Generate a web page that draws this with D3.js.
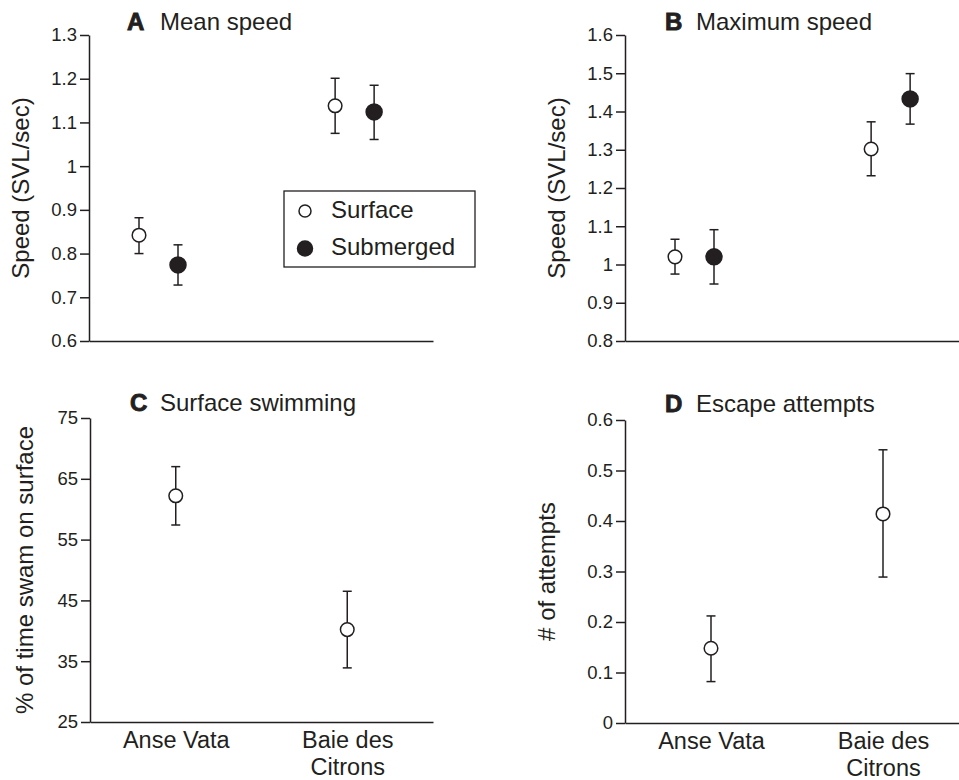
<!DOCTYPE html>
<html>
<head>
<meta charset="utf-8">
<script src="https://cdn.jsdelivr.net/npm/d3@7"></script>
<style>
  body { margin: 0; background: #fff; }
  svg { display: block; font-family: "Liberation Sans", Arial, Helvetica, sans-serif; }
</style>
</head>
<body>
<svg id="chart" width="959" height="780"></svg>
<script>
// --- Data ---
const sites = ["Anse Vata", "Baie des Citrons"];
const seriesNames = ["Surface", "Submerged"];

// A: mean speed (SVL/sec)
const meanSurface   = [0.842, 1.138];
const meanSurfaceLo = [0.800, 1.075];
const meanSurfaceHi = [0.882, 1.201];
const meanSubmerged   = [0.774, 1.124];
const meanSubmergedLo = [0.728, 1.061];
const meanSubmergedHi = [0.820, 1.185];

// B: maximum speed (SVL/sec)
const maxSurface   = [1.020, 1.302];
const maxSurfaceLo = [0.975, 1.232];
const maxSurfaceHi = [1.066, 1.373];
const maxSubmerged   = [1.020, 1.433];
const maxSubmergedLo = [0.949, 1.367];
const maxSubmergedHi = [1.091, 1.499];

// C: % of time swam on surface
const surfTime   = [62.2, 40.2];
const surfTimeLo = [57.4, 33.9];
const surfTimeHi = [67.0, 46.5];

// D: escape attempts
const escapes   = [0.148, 0.414];
const escapesLo = [0.082, 0.289];
const escapesHi = [0.212, 0.541];

// tick labels
const meanTicks = [0.6, 0.7, 0.8, 0.9, 1, 1.1, 1.2, 1.3];
const maxTicks  = [0.8, 0.9, 1, 1.1, 1.2, 1.3, 1.4, 1.5, 1.6];
const surfTicks = [25, 35, 45, 55, 65, 75];
const escTicks  = [0, 0.1, 0.2, 0.3, 0.4, 0.5, 0.6];

// --- Panels ---
const panels = [
  { letter: "A", title: "Mean speed", yLabel: "Speed (SVL/sec)", ticks: meanTicks,
    x0: 89, x1: 433, top: 35, bottom: 341, labelOff: 60, titleY: 30, letterX: 127, titleX: 160,
    pad: 0.377, align: 0.47, catLabels: false, legend: true,
    series: [
      { name: "Surface", v: meanSurface, lo: meanSurfaceLo, hi: meanSurfaceHi },
      { name: "Submerged", v: meanSubmerged, lo: meanSubmergedLo, hi: meanSubmergedHi }
    ] },
  { letter: "B", title: "Maximum speed", yLabel: "Speed (SVL/sec)", ticks: maxTicks,
    x0: 625, x1: 969, top: 35, bottom: 341, labelOff: 60, titleY: 30, letterX: 665, titleX: 696,
    pad: 0.377, align: 0.47, catLabels: false, legend: false,
    series: [
      { name: "Surface", v: maxSurface, lo: maxSurfaceLo, hi: maxSurfaceHi },
      { name: "Submerged", v: maxSubmerged, lo: maxSubmergedLo, hi: maxSubmergedHi }
    ] },
  { letter: "C", title: "Surface swimming", yLabel: "% of time swam on surface", ticks: surfTicks,
    x0: 90, x1: 433, top: 418, bottom: 722, labelOff: 57, titleY: 411, letterX: 130, titleX: 160,
    pad: 0.5, align: 0.5, catLabels: true, legend: false,
    series: [ { name: "Surface", v: surfTime, lo: surfTimeLo, hi: surfTimeHi } ] },
  { letter: "D", title: "Escape attempts", yLabel: "# of attempts", ticks: escTicks,
    x0: 625, x1: 969, top: 420, bottom: 723, labelOff: 70, titleY: 412, letterX: 665, titleX: 696,
    pad: 0.5, align: 0.5, catLabels: true, legend: false,
    series: [ { name: "Surface", v: escapes, lo: escapesLo, hi: escapesHi } ] }
];

const ink = "#231f20";
const svg = d3.select("#chart");

// wrap a label into lines of at most n chars
function wrap(label, n) {
  const lines = [];
  label.split(" ").forEach(w => {
    const last = lines[lines.length - 1];
    if (last && (last + " " + w).length <= n) lines[lines.length - 1] = last + " " + w;
    else lines.push(w);
  });
  return lines;
}

panels.forEach(p => {
  const y = d3.scaleLinear()
              .domain(d3.extent(p.ticks))
              .range([p.bottom, p.top]);

  const x = d3.scalePoint()
              .domain(sites)
              .range([p.x0, p.x1])
              .padding(p.pad)
              .align(p.align);

  const dx = p.series.length > 1
    ? d3.scalePoint().domain(seriesNames).range([-19.5, 19.5])
    : () => 0;

  // --- Y axis ---
  const yAxis = svg.append("g")
    .attr("transform", `translate(${p.x0},0)`)
    .style("color", ink)
    .call(d3.axisLeft(y).tickValues(p.ticks).tickFormat(d => d)
            .tickSize(9).tickSizeOuter(0).tickPadding(3));
  yAxis.attr("font-family", null).attr("font-size", 18.5);
  yAxis.selectAll("path, line").attr("stroke-width", 1.5);

  // --- X axis ---
  const xAxis = svg.append("g")
    .attr("transform", `translate(0,${p.bottom})`)
    .style("color", ink)
    .call(d3.axisBottom(x).tickSize(0).tickSizeOuter(0)
            .tickFormat(p.catLabels ? d => d : ""));
  xAxis.attr("font-family", null).attr("font-size", 23.5);
  xAxis.select(".domain").attr("stroke-width", 1.5);

  if (p.catLabels) {
    xAxis.selectAll(".tick text").each(function(d) {
      const t = d3.select(this).attr("dy", null).attr("y", null).text(null);
      wrap(d, 9).forEach((line, i) => {
        t.append("tspan").attr("x", 0).attr("y", 26 + i * 27).text(line);
      });
    });
  }

  // --- Y label ---
  svg.append("text")
    .attr("transform", `translate(${p.x0 - p.labelOff},${(p.top + p.bottom) / 2}) rotate(-90)`)
    .attr("text-anchor", "middle")
    .attr("font-size", 24)
    .attr("fill", ink)
    .text(p.yLabel);

  // --- Title ---
  svg.append("text")
    .attr("x", p.letterX).attr("y", p.titleY)
    .attr("font-size", 24).attr("font-weight", "bold")
    .attr("fill", ink).attr("stroke", ink).attr("stroke-width", 0.9)
    .text(p.letter);
  svg.append("text")
    .attr("x", p.titleX).attr("y", p.titleY)
    .attr("font-size", 24)
    .attr("fill", ink)
    .text(p.title);

  // --- Points with error bars ---
  const rows = [];
  p.series.forEach(s => {
    sites.forEach((site, i) => {
      rows.push({ site: site, name: s.name, v: s.v[i], lo: s.lo[i], hi: s.hi[i] });
    });
  });

  const g = svg.append("g");
  const cx = d => x(d.site) + dx(d.name);

  g.selectAll("line.bar").data(rows).enter().append("line")
    .attr("class", "bar")
    .attr("x1", cx).attr("x2", cx)
    .attr("y1", d => y(d.lo)).attr("y2", d => y(d.hi))
    .attr("stroke", ink).attr("stroke-width", 1.5);

  ["lo", "hi"].forEach(k => {
    g.selectAll("line.cap-" + k).data(rows).enter().append("line")
      .attr("class", "cap-" + k)
      .attr("x1", d => cx(d) - 4.5).attr("x2", d => cx(d) + 4.5)
      .attr("y1", d => y(d[k])).attr("y2", d => y(d[k]))
      .attr("stroke", ink).attr("stroke-width", 1.5);
  });

  g.selectAll("circle").data(rows).enter().append("circle")
    .attr("cx", cx).attr("cy", d => y(d.v))
    .attr("r", d => d.name === "Surface" ? 6.8 : 8)
    .attr("fill", d => d.name === "Surface" ? "#fff" : ink)
    .attr("stroke", ink).attr("stroke-width", 1.5);

  // --- Legend ---
  if (p.legend) {
    const lg = svg.append("g").attr("transform", `translate(${p.x0 + 195},${p.top + 156})`);
    lg.append("rect")
      .attr("width", 191).attr("height", 76)
      .attr("fill", "#fff").attr("stroke", ink).attr("stroke-width", 1.3);
    seriesNames.forEach((name, i) => {
      lg.append("circle")
        .attr("cx", 21).attr("cy", 20 + i * 37.5)
        .attr("r", name === "Surface" ? 6 : 7.5)
        .attr("fill", name === "Surface" ? "#fff" : ink)
        .attr("stroke", ink).attr("stroke-width", 1.5);
      lg.append("text")
        .attr("x", 47).attr("y", 26.5 + i * 37)
        .attr("font-size", 24).attr("fill", ink)
        .text(name);
    });
  }
});
</script>
</body>
</html>
